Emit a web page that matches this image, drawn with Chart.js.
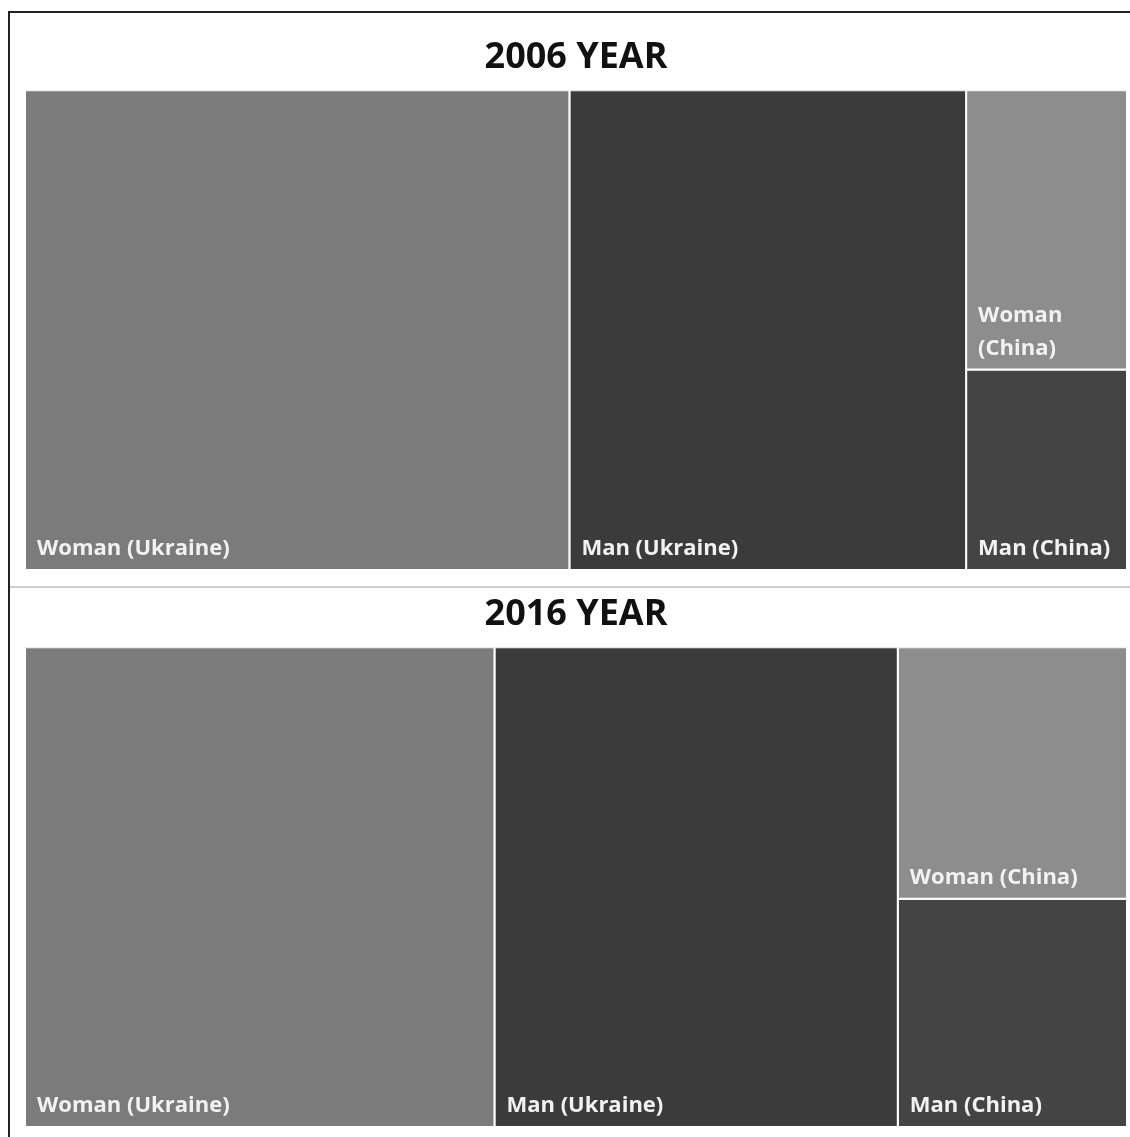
<!DOCTYPE html>
<html>
<head>
<meta charset="utf-8">
<script src="https://cdn.jsdelivr.net/npm/chart.js@4.4.1/dist/chart.umd.min.js"></script>
<style>
    body { margin: 0; background: #fff; width: 1130px; height: 1137px; position: relative; overflow: hidden; }
    #frame { position: absolute; left: 8px; top: 11px; right: -4px; bottom: -4px; border-left: 2px solid #222; border-top: 2px solid #222; }
    #separator { position: absolute; left: 10px; right: 0; top: 586px; height: 2px; background: #cfcfcf; }
    #chart_2006 { position: absolute; left: 11px; top: 14px; }
    #chart_2016 { position: absolute; left: 11px; top: 589px; }
</style>
</head>
<body>
<div id="frame"></div>
<div id="separator"></div>
<canvas id="chart_2006" width="1119" height="573"></canvas>
<canvas id="chart_2016" width="1119" height="548"></canvas>
<script>
// Chart data (share of total, %)
const categories = ['Woman (Ukraine)', 'Man (Ukraine)', 'Woman (China)', 'Man (China)'];
const values2006 = [49.4, 36.0, 8.5, 6.1];
const values2016 = [42.6, 36.6, 10.9, 9.9];
const cellColors = ['#7b7b7b', '#3b3b3b', '#8d8d8d', '#444444'];

// treemap columns: each Ukraine cell on its own, China cells stacked
const columns = [[0], [1], [2, 3]];

// Build one closed rectangle dataset per cell
function buildDatasets( values )
{
    const total = values.reduce( ( a, b ) => a + b, 0 );
    const datasets = [];
    let x0 = 0;

    columns.forEach( ( column ) => {
        const colSum = column.reduce( ( a, i ) => a + values[i], 0 );
        const x1 = x0 + colSum / total * 100;
        let yTop = 100;

        column.forEach( ( i ) => {
            const yBottom = yTop - values[i] / colSum * 100;
            datasets.push({
                label: categories[i],
                data: [
                    {x: x0, y: yBottom},
                    {x: x0, y: yTop},
                    {x: x1, y: yTop},
                    {x: x1, y: yBottom},
                    {x: x0, y: yBottom}
                ],
                showLine: true,
                fill: 'shape',
                backgroundColor: cellColors[i],
                borderColor: '#ffffff',
                borderWidth: 2,
                pointRadius: 0,
                pointHoverRadius: 0,
                tension: 0
            });
            yTop = yBottom;
        });

        x0 = x1;
    });

    return datasets;
}

// Cell labels, bottom-left corner, wrapped when too wide
const cellLabels = {
    id: 'cellLabels',
    afterDatasetsDraw( chart )
    {
        const ctx = chart.ctx;
        const xs = chart.scales.x, ys = chart.scales.y;

        ctx.save();
        ctx.font = 'bold 22px "Open Sans"';
        ctx.fillStyle = '#f2f2f2';
        ctx.textBaseline = 'alphabetic';

        chart.data.datasets.forEach( ( ds ) => {
            const left   = xs.getPixelForValue( ds.data[0].x );
            const right  = xs.getPixelForValue( ds.data[2].x );
            const bottom = ys.getPixelForValue( ds.data[0].y );
            const maxW   = right - left - 20;

            let lines = [ds.label];
            if ( ctx.measureText( ds.label ).width > maxW )
                lines = ds.label.split(' ');

            lines.forEach( ( line, k ) => {
                const y = bottom - 15 - ( lines.length - 1 - k ) * 33;
                ctx.fillText( line, left + 12, y );
            });
        });

        ctx.restore();
    }
};

function makeConfig( title, values, titlePadding, padding )
{
    return {
        type: 'scatter',
        data: { datasets: buildDatasets( values ) },
        options: {
            responsive: false,
            animation: false,
            layout: { padding: padding },
            scales: {
                x: { type: 'linear', min: 0, max: 100, display: false },
                y: { type: 'linear', min: 0, max: 100, display: false }
            },
            plugins: {
                legend: { display: false },
                tooltip: { enabled: false },
                title: {
                    display: true,
                    text: title,
                    color: '#111111',
                    font: { family: 'Open Sans', size: 36, weight: 'bold', lineHeight: 1.2 },
                    padding: titlePadding
                }
            }
        },
        plugins: [cellLabels]
    };
}

new Chart( document.getElementById('chart_2006'),
    makeConfig( '2006 YEAR', values2006, {top: 22, bottom: 11}, {left: 14, right: 3, top: 0, bottom: 17} ) );

new Chart( document.getElementById('chart_2016'),
    makeConfig( '2016 YEAR', values2016, {top: 4, bottom: 11}, {left: 14, right: 3, top: 0, bottom: 10} ) );
</script>
</body>
</html>
